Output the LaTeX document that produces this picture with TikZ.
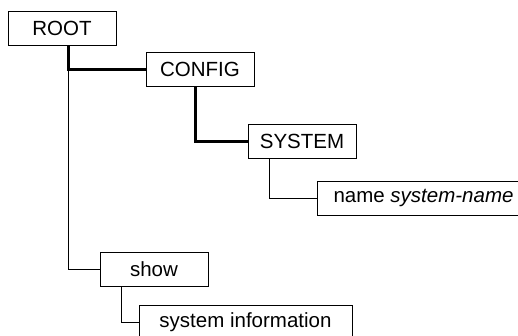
\documentclass[tikz,border=0pt]{standalone}
\usepackage{fontspec}
\setmainfont{Liberation Sans}
\begin{document}
\begin{tikzpicture}[x=1pt,y=-1pt,
  box/.style={draw=black,line width=1pt,fill=white,rectangle,inner sep=0pt,
    minimum width=108pt,minimum height=34pt,font=\fontsize{20.5}{24}\selectfont},
  widebox/.style={box,minimum width=213pt},
  thickline/.style={line width=3pt},
  thinline/.style={line width=1pt}]
\useasboundingbox (0,0) rectangle (518,335);
\clip (0,0) rectangle (518,335);
\coordinate (c1) at (68,69);
\coordinate (c2) at (195,141);
\coordinate (c3) at (269,198);
\coordinate (c4) at (121,322);
% connectors first
\node[box] (root) at (62,28.5) {ROOT};
\node[box] (config) at (200,69) {CONFIG};
\node[box] (system) at (302,141) {SYSTEM};
\node[widebox] (name) at (423.5,198) {name \textit{system-name}};
\node[box] (show) at (154,269) {show};
\node[widebox] (info) at (245.5,322) {system information};
\draw[thinline] (c1) |- (show.west);
\draw[thickline] (root.south -| c1) |- (config.west);
\draw[thickline] (config.south -| c2) |- (system.west);
\draw[thinline] (system.south -| c3) |- (name.west);
\draw[thinline] (show.south -| c4) |- (info.west);
\end{tikzpicture}
\end{document}
